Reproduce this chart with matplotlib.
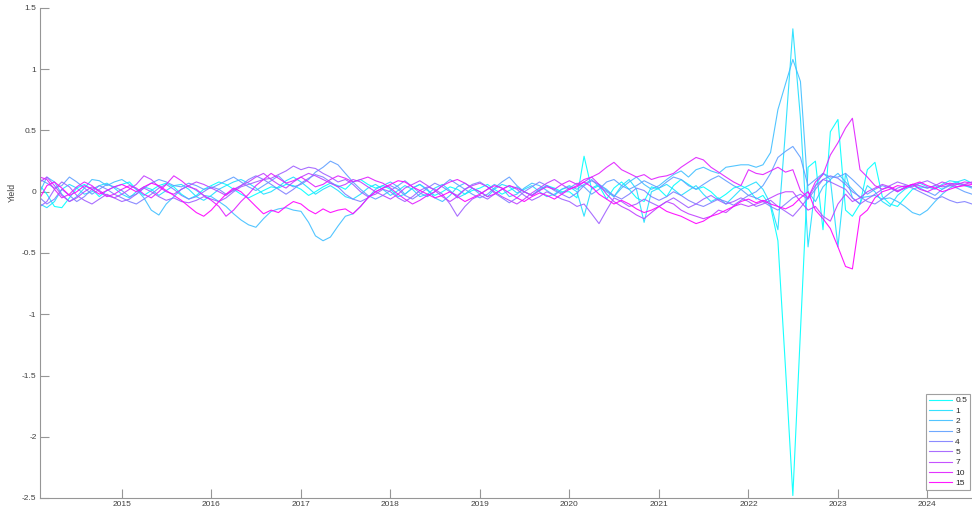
import matplotlib
matplotlib.use("Agg")
import matplotlib.pyplot as plt
import matplotlib.dates as mdates
import numpy as np
import pandas as pd

plt.rcParams["font.family"] = ["Liberation Sans", "DejaVu Sans"]
plt.rcParams["axes.unicode_minus"] = False

# monthly observations, Feb 2014 .. Jul 2024
dates = pd.date_range("2014-02-01", periods=126, freq="MS")

maturities = ["0.5", "1", "2", "3", "4", "5", "7", "10", "15"]

# one row per calendar year (2014 starts in Feb, 2024 ends in Jul)
y_05 = [
    0.05, -0.02, -0.12, -0.13, -0.05, 0.03, 0.06, 0.02, -0.04, 0.01, 0.04,
    0.06, 0.08, 0.02, -0.03, 0.01, 0.05, 0.07, 0.04, -0.02, -0.06, -0.03, 0.02,
    0.05, 0.08, 0.06, 0.02, -0.02, -0.05, -0.02, 0.01, 0.04, 0.03, 0.06, 0.05,
    0.02, -0.03, 0.00, 0.04, 0.07, 0.05, 0.02, 0.08, 0.10, 0.06, 0.03, 0.05,
    0.02, -0.04, -0.02, 0.03, 0.06, 0.01, -0.03, 0.00, 0.04, 0.02, -0.02, 0.01,
    0.03, 0.06, 0.02, -0.02, 0.01, 0.04, 0.00, -0.03, 0.02, 0.05, 0.03, 0.00,
    0.00, -0.05, 0.29, 0.02, 0.05, -0.06, 0.03, 0.08, 0.02, -0.05, -0.08, 0.04,
    0.02, -0.04, 0.05, 0.10, 0.06, 0.02, 0.04, 0.00, -0.06, -0.02, 0.03, 0.05,
    0.02, -0.06, -0.03, -0.12, -0.40, -1.44, -2.48, -1.14, 0.20, 0.25, -0.31, 0.49,
    0.59, -0.15, -0.20, -0.10, 0.18, 0.24, -0.04, -0.10, -0.12, -0.05, 0.02, 0.04,
    0.03, 0.05, 0.02, 0.06, 0.08, 0.05, 0.04,
]
y_1 = [
    -0.10, -0.13, -0.08, 0.02, 0.06, 0.03, -0.02, 0.00, 0.05, 0.07, 0.03,
    -0.02, -0.05, 0.00, 0.04, 0.02, -0.03, 0.01, 0.05, 0.06, 0.02, -0.04, -0.07,
    -0.03, 0.02, 0.05, 0.08, 0.10, 0.07, 0.03, -0.02, 0.00, 0.04, 0.09, 0.12,
    0.08, 0.03, -0.02, 0.02, 0.05, 0.01, -0.04, -0.06, -0.02, 0.03, 0.06, 0.02,
    -0.03, 0.01, 0.05, 0.02, -0.04, -0.02, 0.03, 0.06, 0.01, -0.05, -0.02, 0.03,
    0.00, -0.04, 0.02, 0.06, 0.04, -0.01, 0.02, 0.05, 0.00, -0.04, -0.02, 0.02,
    0.04, 0.00, -0.20, 0.03, 0.06, 0.02, -0.04, 0.05, 0.10, 0.02, -0.25, 0.00,
    0.03, 0.06, 0.02, -0.03, 0.01, 0.05, -0.02, -0.08, -0.05, -0.10, -0.04, 0.02,
    0.05, 0.08, 0.02, -0.10, -0.31, 0.50, 1.33, 0.60, -0.45, 0.05, 0.15, 0.10,
    -0.45, 0.15, -0.05, -0.10, 0.05, 0.00, -0.08, -0.12, -0.03, 0.02, 0.05, 0.07,
    0.04, 0.02, 0.06, 0.09, 0.08, 0.10, 0.07,
]
y_2 = [
    0.00, 0.12, 0.08, -0.02, -0.08, -0.04, 0.03, 0.10, 0.09, 0.05, 0.08,
    0.10, 0.06, 0.02, -0.05, -0.15, -0.19, -0.10, -0.04, 0.02, 0.05, 0.01, -0.03,
    -0.04, -0.08, -0.12, -0.18, -0.23, -0.27, -0.29, -0.22, -0.16, -0.14, -0.13, -0.15,
    -0.16, -0.25, -0.36, -0.40, -0.37, -0.28, -0.20, -0.18, -0.12, -0.05, 0.02, 0.05,
    0.08, 0.04, -0.02, 0.03, 0.06, 0.02, -0.05, -0.08, -0.03, 0.04, 0.07, 0.03,
    -0.02, 0.02, 0.06, 0.03, -0.04, -0.02, 0.03, 0.07, 0.05, 0.01, -0.03, 0.02,
    0.05, 0.02, 0.06, 0.10, 0.04, 0.00, -0.04, 0.03, 0.08, 0.12, 0.06, 0.02,
    0.05, 0.10, 0.14, 0.17, 0.12, 0.18, 0.20, 0.17, 0.15, 0.20, 0.21, 0.22,
    0.22, 0.20, 0.22, 0.32, 0.67, 0.88, 1.08, 0.90, 0.00, -0.08, 0.04, 0.10,
    0.15, 0.08, 0.02, -0.05, -0.04, -0.03, -0.06, -0.05, -0.08, -0.12, -0.17, -0.19,
    -0.15, -0.08, -0.02, 0.03, 0.06, 0.05, 0.03,
]
y_3 = [
    0.10, 0.07, 0.03, 0.05, 0.12, 0.08, 0.03, -0.02, 0.02, 0.06, 0.04,
    0.01, -0.04, -0.02, 0.03, 0.07, 0.10, 0.08, 0.05, 0.04, 0.07, 0.05, 0.02,
    0.03, 0.06, 0.09, 0.12, 0.08, 0.04, 0.01, 0.05, 0.09, 0.13, 0.07, 0.04,
    0.06, 0.10, 0.16, 0.20, 0.25, 0.22, 0.15, 0.08, 0.02, -0.03, -0.06, -0.03,
    0.01, 0.05, 0.09, 0.04, -0.01, -0.04, 0.00, 0.05, 0.10, 0.06, 0.02, -0.02,
    -0.05, -0.02, 0.03, 0.08, 0.12, 0.05, 0.00, -0.03, 0.01, 0.05, 0.02, -0.01,
    0.03, 0.07, 0.04, -0.02, 0.02, 0.08, 0.10, 0.05, 0.02, 0.05, 0.09, 0.06,
    0.03, 0.08, 0.12, 0.10, 0.05, 0.02, 0.06, 0.10, 0.13, 0.09, 0.05, 0.02,
    -0.03, 0.00, 0.05, 0.15, 0.28, 0.33, 0.37, 0.28, 0.05, 0.10, 0.15, 0.12,
    0.12, 0.15, 0.10, 0.04, -0.02, 0.02, 0.05, 0.03, 0.00, 0.04, 0.06, 0.03,
    0.00, -0.03, 0.02, 0.05, 0.03, 0.00, -0.02,
]
y_4 = [
    -0.05, -0.10, -0.06, 0.02, -0.03, -0.08, -0.04, 0.02, 0.05, 0.02, -0.02,
    -0.05, -0.08, -0.10, -0.06, -0.02, 0.03, 0.06, 0.02, -0.03, -0.06, -0.04, 0.00,
    0.04, 0.02, -0.02, 0.01, 0.05, 0.10, 0.13, 0.10, 0.06, 0.02, -0.02, 0.02,
    0.07, 0.11, 0.14, 0.12, 0.08, 0.04, -0.02, -0.06, -0.08, -0.05, 0.00, 0.03,
    0.05, 0.02, -0.03, -0.06, -0.02, 0.03, 0.07, 0.04, 0.00, -0.03, 0.02, 0.06,
    0.08, 0.04, -0.01, -0.05, -0.09, -0.05, 0.00, 0.04, 0.08, 0.05, 0.01, -0.02,
    -0.05, -0.01, 0.05, 0.09, 0.06, 0.01, -0.03, -0.06, -0.02, 0.03, 0.01, -0.04,
    -0.07, -0.04, 0.00, -0.03, -0.07, -0.10, -0.12, -0.09, -0.06, -0.08, -0.11, -0.07,
    -0.03, -0.05, -0.08, -0.12, -0.15, -0.10, -0.05, -0.02, -0.06, 0.02, 0.10, 0.13,
    0.11, 0.06, 0.00, -0.04, -0.08, -0.10, -0.06, -0.01, 0.03, 0.05, 0.03, 0.00,
    -0.03, -0.06, -0.04, -0.07, -0.09, -0.08, -0.10,
]
y_5 = [
    -0.12, -0.08, 0.02, 0.08, 0.04, -0.03, -0.07, -0.10, -0.06, -0.02, -0.05,
    -0.08, -0.06, -0.02, 0.03, 0.00, -0.04, -0.07, -0.05, -0.08, -0.09, -0.07, -0.04,
    -0.06, -0.08, -0.05, 0.00, 0.04, 0.06, 0.08, 0.10, 0.11, 0.14, 0.17, 0.21,
    0.18, 0.20, 0.19, 0.15, 0.12, 0.08, 0.10, 0.06, 0.00, -0.04, -0.02, 0.02,
    0.00, -0.05, -0.08, -0.04, 0.01, 0.04, 0.02, -0.02, -0.10, -0.20, -0.12, -0.06,
    -0.03, -0.06, -0.02, 0.02, 0.05, 0.02, -0.03, -0.07, -0.04, 0.00, -0.03, -0.06,
    -0.08, -0.12, -0.10, -0.18, -0.26, -0.15, -0.05, -0.08, -0.12, -0.10, -0.06, -0.09,
    -0.12, -0.08, -0.05, -0.09, -0.13, -0.10, -0.06, -0.03, -0.07, -0.10, -0.08, -0.05,
    -0.08, -0.12, -0.10, -0.07, -0.12, -0.16, -0.20, -0.13, -0.05, 0.05, 0.10, 0.08,
    0.05, 0.02, -0.05, -0.10, -0.06, -0.02, 0.02, 0.05, 0.08, 0.06, 0.04, 0.07,
    0.09, 0.06, 0.04, 0.05, 0.07, 0.06, 0.04,
]
y_7 = [
    0.08, 0.12, 0.05, -0.03, -0.08, -0.05, 0.00, 0.04, 0.01, -0.03, -0.05,
    -0.02, 0.02, 0.06, 0.13, 0.10, 0.04, 0.00, -0.02, 0.02, 0.05, 0.08, 0.06,
    0.03, 0.00, -0.03, 0.02, 0.05, 0.08, 0.12, 0.15, 0.10, 0.06, 0.03, 0.08,
    0.12, 0.15, 0.13, 0.10, 0.07, 0.04, 0.06, 0.10, 0.08, 0.04, 0.00, -0.03,
    -0.06, -0.02, 0.03, 0.06, 0.09, 0.05, 0.01, -0.04, -0.08, -0.04, 0.02, 0.05,
    0.07, 0.04, 0.00, -0.04, -0.07, -0.10, -0.06, -0.01, 0.03, 0.07, 0.10, 0.06,
    0.02, 0.04, 0.08, 0.12, 0.06, -0.02, -0.08, -0.12, -0.15, -0.19, -0.22, -0.17,
    -0.12, -0.08, -0.10, -0.15, -0.18, -0.20, -0.22, -0.20, -0.15, -0.17, -0.12, -0.10,
    -0.12, -0.10, -0.08, -0.05, -0.02, 0.00, 0.00, -0.08, -0.15, -0.12, -0.20, -0.24,
    -0.10, -0.02, -0.08, -0.05, 0.00, 0.03, 0.06, 0.04, 0.01, 0.03, 0.06, 0.05,
    0.03, 0.05, 0.08, 0.06, 0.04, 0.06, 0.08,
]
y_10 = [
    0.12, 0.10, 0.02, -0.05, -0.02, 0.04, 0.08, 0.05, 0.00, -0.04, -0.02,
    0.02, 0.05, 0.03, -0.02, -0.05, 0.00, 0.06, 0.13, 0.09, 0.04, 0.02, -0.03,
    -0.07, -0.12, -0.20, -0.15, -0.08, -0.02, 0.05, 0.10, 0.15, 0.11, 0.07, 0.09,
    0.12, 0.08, 0.04, 0.06, 0.10, 0.13, 0.11, 0.08, 0.10, 0.12, 0.09, 0.07,
    0.03, -0.02, -0.06, -0.10, -0.07, -0.03, 0.00, 0.05, 0.08, 0.10, 0.07, 0.03,
    0.00, -0.04, -0.02, 0.02, 0.05, 0.03, 0.00, -0.03, 0.01, 0.04, 0.02, 0.06,
    0.09, 0.06, 0.10, 0.12, 0.15, 0.20, 0.24, 0.18, 0.15, 0.12, 0.14, 0.10,
    0.12, 0.13, 0.15, 0.20, 0.24, 0.28, 0.26, 0.20, 0.16, 0.12, 0.08, 0.05,
    0.18, 0.15, 0.14, 0.17, 0.20, 0.16, 0.18, 0.01, -0.05, 0.08, 0.14, 0.30,
    0.40, 0.52, 0.60, 0.18, 0.12, 0.05, 0.02, 0.04, 0.00, 0.03, 0.06, 0.02,
    0.00, 0.03, 0.05, 0.07, 0.06, 0.08, 0.07,
]
y_15 = [
    -0.05, 0.05, 0.08, 0.03, -0.03, 0.00, 0.05, 0.02, -0.02, 0.01, 0.04,
    0.06, 0.03, 0.00, 0.04, 0.07, 0.05, 0.01, -0.03, -0.07, -0.12, -0.17, -0.20,
    -0.15, -0.08, -0.02, 0.03, 0.00, -0.06, -0.12, -0.18, -0.15, -0.17, -0.12, -0.08,
    -0.10, -0.15, -0.18, -0.14, -0.17, -0.15, -0.14, -0.18, -0.12, -0.05, 0.00, 0.03,
    0.06, 0.09, 0.08, 0.04, 0.01, -0.02, -0.05, -0.03, 0.00, -0.04, -0.08, -0.05,
    -0.02, 0.02, 0.05, 0.03, -0.01, -0.05, -0.08, -0.04, -0.01, -0.03, -0.06, -0.02,
    0.02, 0.05, 0.08, 0.04, -0.02, -0.06, -0.10, -0.07, -0.10, -0.14, -0.17, -0.15,
    -0.12, -0.16, -0.18, -0.20, -0.23, -0.26, -0.24, -0.20, -0.18, -0.15, -0.12, -0.08,
    -0.06, -0.09, -0.07, -0.10, -0.12, -0.14, -0.11, -0.05, 0.00, -0.15, -0.22, -0.30,
    -0.45, -0.61, -0.63, -0.20, -0.15, -0.05, 0.00, 0.02, 0.05, 0.04, 0.06, 0.08,
    0.05, 0.03, 0.00, 0.02, 0.04, 0.05, 0.06,
]

series = [y_05, y_1, y_2, y_3, y_4, y_5, y_7, y_10, y_15]
colors = plt.cm.cool(np.linspace(0, 1, len(series)))

fig = plt.figure(figsize=(9.72, 5.15), dpi=100)
ax = fig.add_axes([40 / 972, 17 / 515, 932 / 972, 490 / 515])

for vals, c, lab in zip(series, colors, maturities):
    ax.plot(dates, vals, color=c, lw=0.8, alpha=0.9, label=lab)

ax.set_xlim(dates[0], dates[-1])
ax.set_ylim(-2.5, 1.5)
ax.set_yticks(np.arange(-2.5, 1.51, 0.5))
ax.yaxis.set_major_formatter(plt.FuncFormatter(lambda v, p: f"{v:g}"))
ax.xaxis.set_major_locator(mdates.YearLocator())
ax.xaxis.set_major_formatter(mdates.DateFormatter("%Y"))

axis_grey = "#969696"
for side in ["top", "right"]:
    ax.spines[side].set_visible(False)
for side in ["left", "bottom"]:
    ax.spines[side].set_color(axis_grey)
    ax.spines[side].set_linewidth(0.8)
ax.tick_params(direction="in", length=6.5, width=0.8, color=axis_grey,
               labelcolor="#404040", labelsize=6, pad=2.5)

ax.set_ylabel("Yield", fontsize=6.2, color="#404040")
ax.yaxis.set_label_coords(-0.025, 0.624)

leg = ax.legend(loc="lower right", bbox_to_anchor=(970 / 972, 25 / 515),
                bbox_transform=fig.transFigure, borderaxespad=0,
                fontsize=6, handlelength=2.8, handletextpad=0.4,
                labelspacing=0.3, borderpad=0.35, fancybox=False,
                framealpha=1, edgecolor="#a0a0a0")
leg.get_frame().set_linewidth(0.8)
for t in leg.get_texts():
    t.set_color("#262626")

fig.savefig("out.png", dpi=100)
